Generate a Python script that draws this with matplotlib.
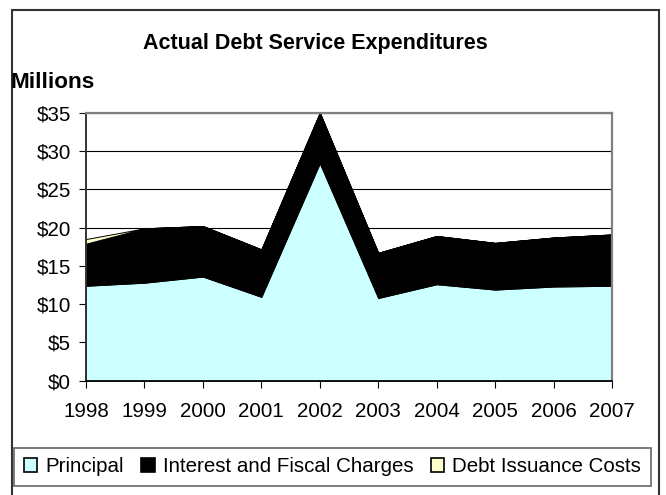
import matplotlib
matplotlib.use("Agg")
import matplotlib.pyplot as plt
import numpy as np
from matplotlib.patches import Rectangle
from matplotlib.ticker import FuncFormatter

# Debt service by year, in millions of dollars
years = ["1998", "1999", "2000", "2001", "2002", "2003", "2004", "2005", "2006", "2007"]
principal = [12.4, 12.8, 13.6, 10.95, 28.4, 10.8, 12.6, 11.9, 12.3, 12.4]
interest = [5.5, 7.1, 6.6, 6.2, 6.6, 5.9, 6.3, 6.1, 6.4, 6.7]
issuance = [0.6, 0.0, 0.0, 0.0, 0.0, 0.0, 0.0, 0.0, 0.0, 0.0]

series_names = ["Principal", "Interest and Fiscal Charges", "Debt Issuance Costs"]
series_colors = ["#CCFFFF", "#000000", "#FFFFCC"]

plt.rcParams["font.family"] = ["Liberation Sans", "DejaVu Sans"]

fig = plt.figure(figsize=(6.66, 4.95), dpi=100)
ax = fig.add_axes([86 / 666, 1 - 380.7 / 495, 526 / 666, 268 / 495])

x = np.arange(len(years))
ax.stackplot(x, principal, interest, issuance, colors=series_colors,
             edgecolor="black", linewidth=0.7, zorder=3)

ax.set_xlim(0, len(years) - 1)
ax.set_ylim(0, 35)
ax.set_yticks(np.arange(0, 36, 5))
ax.yaxis.set_major_formatter(FuncFormatter(lambda v, p: "$%d" % v))
ax.set_xticks(x)
ax.set_xticklabels(years)

ax.grid(axis="y", color="black", linewidth=0.8, zorder=1)
ax.tick_params(axis="both", labelsize=14.8, length=5, width=0.8, direction="out")
ax.tick_params(axis="x", pad=10)
ax.tick_params(axis="y", pad=6)

ax.spines["top"].set_color("#808080")
ax.spines["top"].set_linewidth(1.6)
ax.spines["right"].set_color("#808080")
ax.spines["right"].set_linewidth(1.6)
ax.spines["left"].set_color("#333333")
ax.spines["left"].set_linewidth(1.4)
ax.spines["bottom"].set_color("black")
ax.spines["bottom"].set_linewidth(1.2)
for s in ax.spines.values():
    s.set_zorder(4)

fig.text(315 / 666, 1 - 43 / 495, "Actual Debt Service Expenditures",
         ha="center", va="center", fontsize=15.5, fontweight="bold")
fig.text(10 / 666, 1 - 83 / 495, "Millions", ha="left", va="center",
         fontsize=16.2, fontweight="bold")

# legend along the bottom
handles = [Rectangle((0, 0), 1, 1, facecolor=c, edgecolor="black", linewidth=1.2)
           for c in series_colors]
leg = fig.legend(handles, series_names, ncol=3, loc="center",
                 bbox_to_anchor=(332.5 / 666, 1 - 467 / 495), fontsize=14.8,
                 handlelength=0.65, handleheight=0.65, handletextpad=0.4,
                 columnspacing=0.85, borderpad=0.45, borderaxespad=0,
                 fancybox=False, frameon=True, edgecolor="#404040")
leg.get_frame().set_linewidth(1.2)

# outer chart border
fig.patches.append(Rectangle((11.5 / 666, -0.05), (658.7 - 11.5) / 666, 0.05 + 1 - 10 / 495,
                             transform=fig.transFigure, fill=False,
                             edgecolor="#333333", linewidth=1.5))

fig.savefig("out.png", dpi=100)
